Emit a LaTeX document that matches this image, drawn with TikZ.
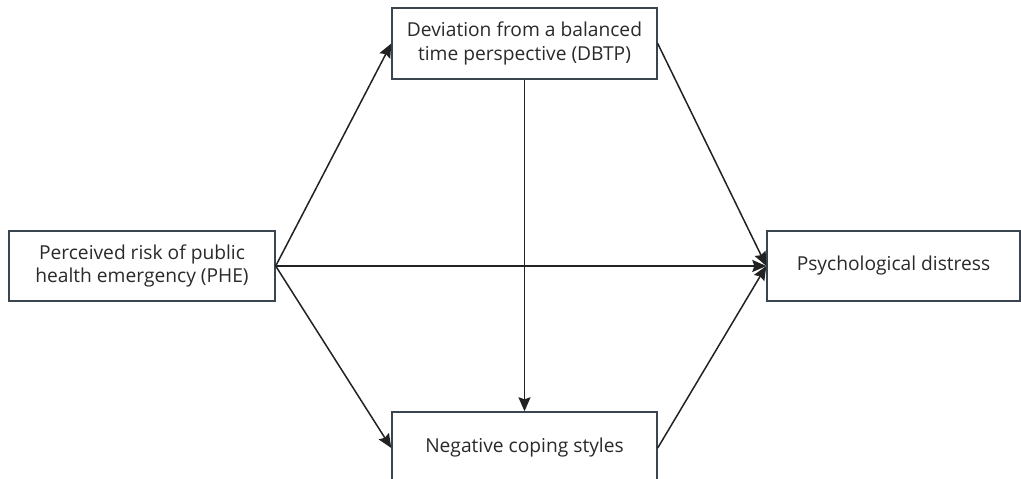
\documentclass[tikz,border=0pt]{standalone}
\usepackage{fontspec}
\setmainfont{Open Sans}
\usetikzlibrary{arrows.meta}
\definecolor{boxline}{HTML}{3A4550}
\definecolor{txt}{HTML}{2A2A2A}
\definecolor{arr}{HTML}{222222}
\begin{document}
\begin{tikzpicture}[x=1pt,y=1pt,
  varbox/.style={draw=boxline,line width=1.4pt,fill=white,align=center,text=txt,
    font=\fontsize{19.2}{23.5}\selectfont,inner sep=0pt},
  link/.style={draw=arr,line width=1.5pt,-{Stealth[length=14pt,width=12pt,inset=2pt]}}]
\useasboundingbox (0,0) rectangle (1021,479);
\clip (0,0) rectangle (1021,479);
\node[varbox,minimum width=266pt,minimum height=70pt] (phe) at (142,213) {Perceived risk of public\\health emergency (PHE)};
\node[varbox,minimum width=265pt,minimum height=71pt] (dbtp) at (524.5,435.5) {Deviation from a balanced\\time perspective (DBTP)};
\node[varbox,minimum width=265pt,minimum height=72pt] (ncs) at (524.5,31) {Negative coping styles};
\node[varbox,minimum width=253pt,minimum height=70pt] (pd) at (893.5,213) {Psychological distress};
\draw[link] (phe.east) -- (dbtp.west);
\draw[link] (phe.east) -- (ncs.west);
\draw[link] (phe.east) -- (pd.west);
\draw[link] (dbtp.south) -- (ncs.north);
\draw[link] (dbtp.east) -- (pd.west);
\draw[link] (ncs.east) -- (pd.west);
\end{tikzpicture}
\end{document}
